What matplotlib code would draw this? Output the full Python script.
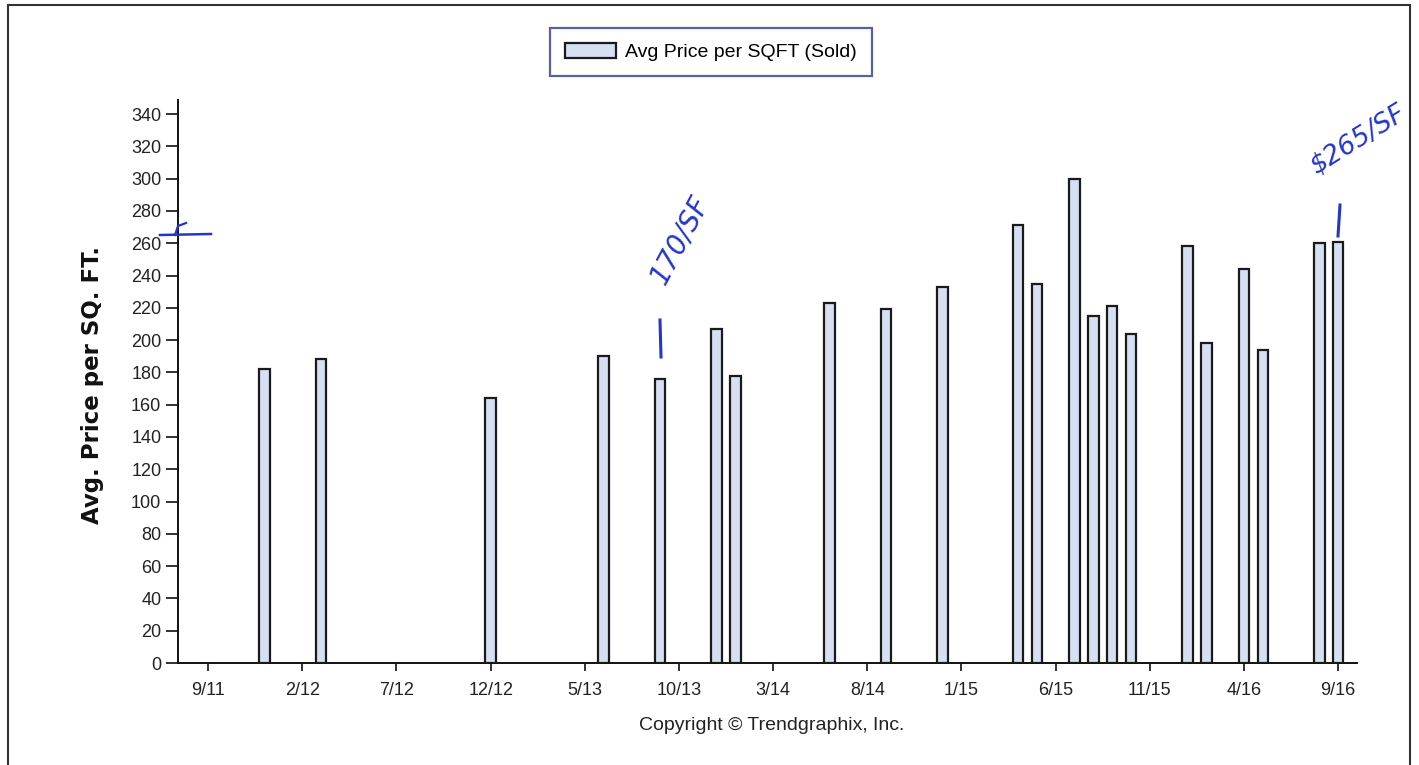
import numpy as np
import pandas as pd
import matplotlib
matplotlib.use("Agg")
import matplotlib.pyplot as plt
from matplotlib.patches import Rectangle

# sold months (m/yy) and avg price per sq ft
months = ["12/11", "3/12", "12/12", "6/13", "9/13", "12/13", "1/14", "6/14",
          "9/14", "12/14", "4/15", "5/15", "7/15", "8/15", "9/15", "10/15",
          "1/16", "2/16", "4/16", "5/16", "8/16", "9/16"]
price = [182, 188, 164, 190, 176, 207, 178, 223,
         219, 233, 271, 235, 300, 215, 221, 204,
         258, 198, 244, 194, 260, 261]

tick_labels = ["9/11", "2/12", "7/12", "12/12", "5/13", "10/13", "3/14", "8/14",
               "1/15", "6/15", "11/15", "4/16", "9/16"]
yticks = list(range(0, 341, 20))

start = pd.Timestamp("2011-09-01")
def month_idx(s):
    d = pd.to_datetime(s, format="%m/%y")
    return (d.year - start.year) * 12 + d.month - start.month

x = np.array([month_idx(m) for m in months])
xt = np.array([month_idx(t) for t in tick_labels])

plt.rcParams['font.family'] = ['Liberation Sans', 'DejaVu Sans']

fig = plt.figure(figsize=(14.19, 7.65), dpi=100)
ax = fig.add_axes([178/1419, 1 - 663/765, (1357-178)/1419, (663-100)/765])

ax.bar(x, price, width=0.55, color='#d6e0f2', edgecolor='#1a1a1a',
       linewidth=1.6, label='Avg Price per SQFT (Sold)', zorder=3)

ax.set_xlim(-1.6, 61.0)
ax.set_ylim(0, 348.7)
ax.set_yticks(yticks)
ax.set_xticks(xt)
ax.set_xticklabels(tick_labels)
ax.tick_params(axis='y', direction='out', length=9, width=1.3, labelsize=13,
               colors='#222', pad=3)
ax.tick_params(axis='x', direction='out', length=6, width=1.3, labelsize=13,
               colors='#222', pad=8)
for s in ['top', 'right']:
    ax.spines[s].set_visible(False)
for s in ['left', 'bottom']:
    ax.spines[s].set_linewidth(1.4)
    ax.spines[s].set_color('#111')

fig.text(93/1419, 1 - 385/765, 'Avg. Price per SQ. FT.', rotation=90,
         ha='center', va='center', fontsize=16.5, fontweight='bold',
         family='DejaVu Sans', color='#111')

leg = fig.legend(loc='center', bbox_to_anchor=(711/1419, 1 - 52/765),
                 fontsize=14, frameon=True, fancybox=False, handlelength=2.6,
                 handleheight=0.8, borderpad=0.75, borderaxespad=0,
                 handletextpad=0.5)
leg.get_frame().set_edgecolor('#2b3b86')
leg.get_frame().set_linewidth(1.6)

fig.text(772/1419, 1 - 725/765, 'Copyright \u00a9 Trendgraphix, Inc.',
         ha='center', va='center', fontsize=14, color='#222')

# outer frame of the scanned page
fig.patches.append(Rectangle((8/1419, -0.01), (1410-8)/1419, (765-5)/765 + 0.01,
                             transform=fig.transFigure, fill=False,
                             edgecolor='#333', linewidth=1.5))

# handwritten notes
blue = '#2435c8'
fig.text(680/1419, 1 - 240/765, '170/SF', rotation=62, ha='center', va='center',
         fontsize=20, color=blue, style='italic', family='DejaVu Sans')
fig.lines.append(plt.Line2D([660/1419, 661/1419], [1 - 320/765, 1 - 357/765],
                            transform=fig.transFigure, color=blue, lw=2.2))
fig.text(1358/1419, 1 - 140/765, '$265/SF', rotation=32, ha='center', va='center',
         fontsize=19, color=blue, style='italic', family='DejaVu Sans')
fig.lines.append(plt.Line2D([1340/1419, 1338/1419], [1 - 205/765, 1 - 236/765],
                            transform=fig.transFigure, color=blue, lw=2.2))
fig.lines.append(plt.Line2D([160/1419, 211/1419], [1 - 235/765, 1 - 234/765],
                            transform=fig.transFigure, color=blue, lw=1.8))
fig.lines.append(plt.Line2D([175/1419, 178/1419, 186/1419], [1 - 235/765, 1 - 226/765, 1 - 223/765],
                            transform=fig.transFigure, color=blue, lw=1.6))

fig.savefig('out.png', dpi=100, facecolor='white')
